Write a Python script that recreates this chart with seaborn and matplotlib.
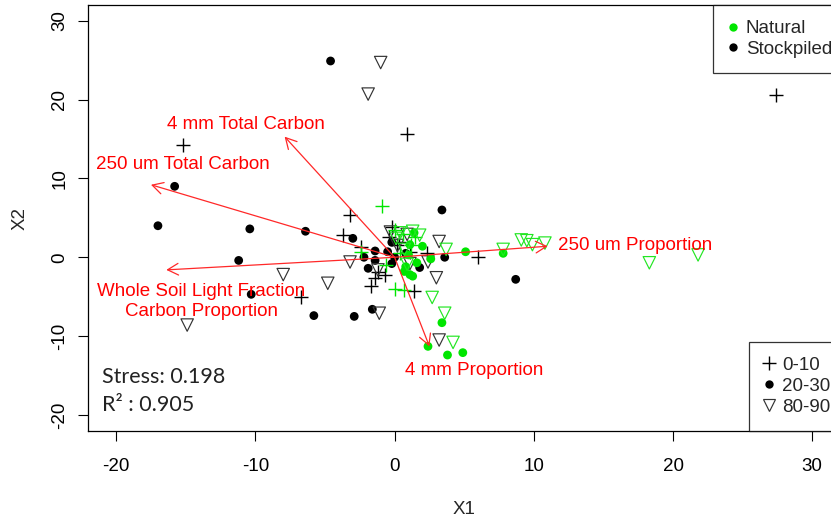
import numpy as np
import pandas as pd
import matplotlib
matplotlib.use("Agg")
import matplotlib.pyplot as plt
from matplotlib.lines import Line2D
import seaborn as sns

sns.set_theme(style="white")
plt.rcParams["font.family"] = ["Liberation Sans", "DejaVu Sans"]
plt.rcParams["axes.unicode_minus"] = False

# NMDS site scores -- Natural sites
nat_0_10_x = [-0.9, 0.0, 0.7, -2.4, 0.0, 0.6, 1.2, -0.6, 0.4, 1.5]
nat_0_10_y = [6.5, -4.0, -4.1, 0.7, 3.4, 2.9, 1.6, -1.0, 0.5, 2.6]
nat_20_30_x = [5.1, 7.8, 3.4, 2.4, 3.8, 4.9, 1.3, 0.7, 1.4, 1.1, 2.0, 1.6, 0.8, 1.0, 1.1, 2.6]
nat_20_30_y = [0.7, 0.5, -8.3, -11.3, -12.4, -12.1, -2.4, -1.8, 3.1, 1.6, 1.4, -0.7, -1.2, 0.3, -2.2, -0.2]
nat_80_90_x = [9.1, 9.5, 9.9, 10.8, 7.8, 18.3, 21.8, 3.7, 2.7, 3.6, 4.2, 0.4, 1.3, 0.7, 0.9, 0.1, 1.8]
nat_80_90_y = [2.2, 2.1, 1.6, 1.8, 1.0, -0.7, 0.3, 1.0, -5.1, -7.1, -10.8, 3.1, 3.3, 1.0, -0.9, 2.4, 2.8]

# NMDS site scores -- Stockpiled sites
stk_0_10_x = [27.4, 0.9, -15.2, -3.2, -3.7, -6.7, 1.4, 6.0, -2.4, -1.7, -1.4, -1.2, -0.2, -0.4, 0.2, 1.1, -0.7, 0.3, 2.3]
stk_0_10_y = [20.6, 15.6, 14.2, 5.4, 2.8, -5.1, -4.3, 0.0, 1.3, -3.7, -2.6, -1.9, 3.8, 2.6, 1.6, 0.7, -2.2, 2.0, 0.6]
stk_20_30_x = [-4.6, -15.8, -17.0, -10.4, -11.2, -10.3, -6.4, -5.8, -2.9, -1.6, 3.4, 8.7, 3.6,
               -3.0, -1.4, -2.2, -1.4, -1.9, -0.5, -0.2, 0.0, 0.8, 1.8, -0.2]
stk_20_30_y = [24.9, 9.0, 4.0, 3.6, -0.4, -4.7, 3.3, -7.4, -7.5, -6.6, 6.0, -2.8, 0.0,
               2.4, 0.8, 0.0, -0.4, -1.4, 0.7, 1.9, 0.0, 0.5, -1.3, -0.8]
stk_80_90_x = [-1.0, -1.9, -14.9, -8.0, -4.8, -3.2, -1.1, 3.2, 2.4, 3.0, 3.2, 0.9, -1.2, -0.3, 0.2, 1.1]
stk_80_90_y = [24.7, 20.7, -8.6, -2.2, -3.3, -0.6, -7.1, 2.0, -0.6, -2.6, -10.5, 2.9, -1.6, 3.2, 1.5, -0.8]

# Fitted environmental vectors
vec_names = ["4 mm Total Carbon", "250 um Total Carbon",
             "Whole Soil Light Fraction\nCarbon Proportion",
             "250 um Proportion", "4 mm Proportion"]
vec_x = [-7.9, -17.5, -16.4, 11.0, 2.5]
vec_y = [15.3, 9.2, -1.6, 1.4, -11.3]
# where each vector's name is written
lab_x = [-10.7, -15.2, -13.9, 17.3, 5.7]
lab_y = [16.9, 11.8, -5.6, 1.5, -14.4]

stress_text = "Stress: 0.198"
r2_text = "R\u00b2 : 0.905"

frames = []
for site, depth, xs, ys in [
    ("Stockpiled", "0-10", stk_0_10_x, stk_0_10_y),
    ("Stockpiled", "20-30", stk_20_30_x, stk_20_30_y),
    ("Stockpiled", "80-90", stk_80_90_x, stk_80_90_y),
    ("Natural", "0-10", nat_0_10_x, nat_0_10_y),
    ("Natural", "20-30", nat_20_30_x, nat_20_30_y),
    ("Natural", "80-90", nat_80_90_x, nat_80_90_y),
]:
    frames.append(pd.DataFrame({"X1": xs, "X2": ys, "Site": site, "Depth": depth}))
df = pd.concat(frames, ignore_index=True)

site_colors = {"Natural": "#00e600", "Stockpiled": "black"}
tri_colors = {"Natural": "#22e622", "Stockpiled": "#333333"}
FS = 13.5

fig = plt.figure(figsize=(8.31, 5.23), dpi=100)
ax = fig.add_axes([0.1063, 0.1765, 0.9046, 0.8139])

for (site, depth), sub in df.groupby(["Site", "Depth"], sort=False):
    col = site_colors[site]
    if depth == "0-10":
        sns.scatterplot(data=sub, x="X1", y="X2", ax=ax, marker="+", s=95,
                        color=col, linewidth=1.0, legend=False, zorder=3)
    elif depth == "20-30":
        sns.scatterplot(data=sub, x="X1", y="X2", ax=ax, marker="o", s=40,
                        color=col, edgecolor="none", linewidth=0, legend=False, zorder=3)
    else:
        sns.scatterplot(data=sub, x="X1", y="X2", ax=ax, marker="v", s=80,
                        facecolor="none", edgecolor=tri_colors[site], linewidth=0.85,
                        legend=False, zorder=3)

# environmental vectors
for vx, vy, name, lx, ly in zip(vec_x, vec_y, vec_names, lab_x, lab_y):
    ax.annotate("", xy=(vx, vy), xytext=(0, 0),
                arrowprops=dict(arrowstyle="->,head_length=0.55,head_width=0.3",
                                color="#ff2828", lw=0.9, shrinkA=0, shrinkB=0,
                                mutation_scale=14),
                zorder=4)
    ax.text(lx, ly, name, color="red", fontsize=FS, ha="center", va="center",
            linespacing=1.2, zorder=5)

ax.text(-21.0, -15.2, stress_text, fontsize=15.5, color="#222222", ha="left", va="center",
        family=["Lato", "DejaVu Sans"])
ax.text(-21.0, -18.7, r2_text, fontsize=15.5, color="#222222", ha="left", va="center",
        family=["Lato", "DejaVu Sans"])

ax.set_xlim(-22, 32)
ax.set_ylim(-22, 32)
ax.set_xticks([-20, -10, 0, 10, 20, 30])
ax.set_yticks([-20, -10, 0, 10, 20, 30])
ax.set_xlabel("")
ax.set_ylabel("")
ax.tick_params(axis="both", direction="out", length=7.5, width=0.8, color="black",
               labelsize=FS, labelcolor="black", left=True, bottom=True)
ax.tick_params(axis="x", pad=12)
ax.tick_params(axis="y", pad=7)
plt.setp(ax.get_yticklabels(), rotation=90, va="center")
for sp in ax.spines.values():
    sp.set_visible(True)
    sp.set_color("black")
    sp.set_linewidth(0.9)
ax.grid(False)

fig.text(464 / 831, 1 - 510 / 523, "X1", ha="center", va="center", fontsize=FS)
fig.text(20 / 831, 1 - 218 / 523, "X2", ha="center", va="center", fontsize=FS, rotation=90)

# legends (their right edges sit just past the clipped right side of the plot)
site_handles = [Line2D([], [], ls="none", marker="o", ms=6, color=site_colors[s], mec="none")
                for s in ["Natural", "Stockpiled"]]
leg1 = ax.legend(site_handles, ["Natural", "Stockpiled"], loc="upper right",
                 bbox_to_anchor=(1.0093, 1), borderaxespad=0, fontsize=FS, frameon=True,
                 fancybox=False, edgecolor="black", handlelength=0.6, handletextpad=0.36,
                 borderpad=0.8, labelspacing=0.2)
leg1.get_frame().set_linewidth(0.9)
ax.add_artist(leg1)

depth_handles = [
    Line2D([], [], ls="none", marker="+", ms=10, color="black", mew=1.0),
    Line2D([], [], ls="none", marker="o", ms=6, color="black", mec="none"),
    Line2D([], [], ls="none", marker="v", ms=9, mfc="none", mec="#333333", mew=0.85),
]
leg2 = ax.legend(depth_handles, ["0-10", "20-30", "80-90"], loc="lower right",
                 bbox_to_anchor=(1.0066, 0), borderaxespad=0, fontsize=FS, frameon=True,
                 fancybox=False, edgecolor="black", handlelength=0.6, handletextpad=0.36,
                 borderpad=0.8, labelspacing=0.2)
leg2.get_frame().set_linewidth(0.9)

fig.savefig("out.png", dpi=100)
